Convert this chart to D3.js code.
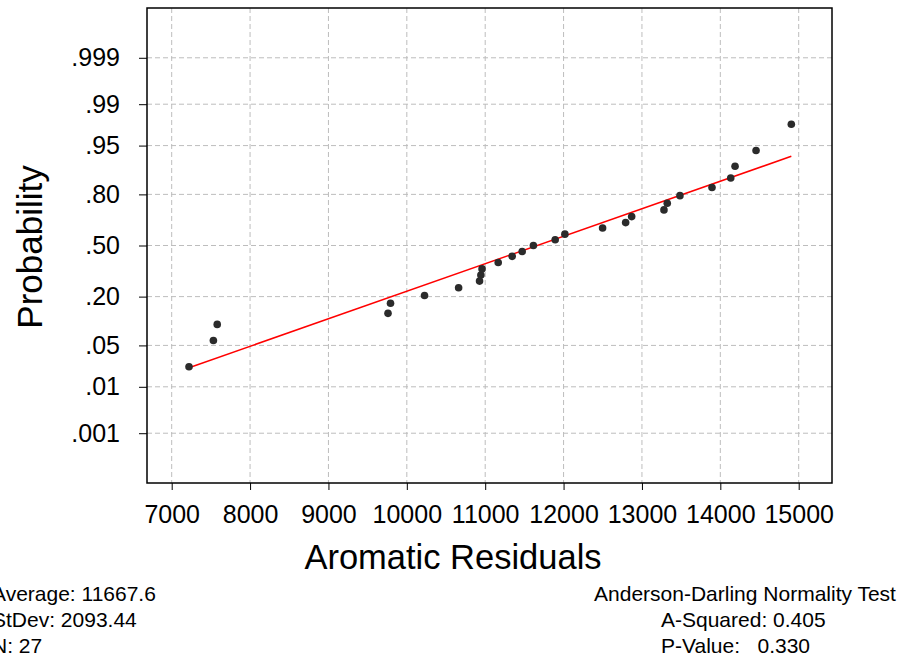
<!DOCTYPE html>
<html>
<head>
<meta charset="utf-8">
<script src="https://cdn.jsdelivr.net/npm/d3@7"></script>
<style>
  body { margin: 0; background: #fff; }
  svg { font-family: "Liberation Sans", Arial, sans-serif; }
</style>
</head>
<body>
<div id="chart"></div>
<script>
// residual values and their plotted probabilities
var residuals = [7221, 7532, 7581, 9760, 9792, 10226, 10661, 10928, 10945, 10960,
                 11166, 11344, 11472, 11615, 11893, 12017, 12498, 12792, 12869, 13281,
                 13323, 13485, 13894, 14133, 14188, 14456, 14906]
var probs = [0.023, 0.059, 0.097, 0.132, 0.171, 0.205, 0.243, 0.279, 0.314, 0.350,
             0.390, 0.429, 0.461, 0.500, 0.538, 0.574, 0.613, 0.647, 0.683, 0.721,
             0.757, 0.794, 0.830, 0.867, 0.904, 0.941, 0.977]

// fitted line end points
var fitX = [7221, 14906]
var fitP = [0.0221, 0.929]

var xTicks = [7000, 8000, 9000, 10000, 11000, 12000, 13000, 14000, 15000]
var yTicks = [0.001, 0.01, 0.05, 0.20, 0.50, 0.80, 0.95, 0.99, 0.999]
var yTickLabels = [".001", ".01", ".05", ".20", ".50", ".80", ".95", ".99", ".999"]

var statsLeft = ["Average: 11667.6", "StDev: 2093.44", "N: 27"]
var statsRight = ["Anderson-Darling Normality Test", "A-Squared: 0.405", "P-Value:   0.330"]

// inverse normal cdf (Acklam) for the probability scale
function probit(p) {
    var a = [-39.69683028665376, 220.9460984245205, -275.9285104469687, 138.3577518672690, -30.66479806614716, 2.506628277459239]
    var b = [-54.47609879822406, 161.5858368580409, -155.6989798598866, 66.80131188771972, -13.28068155288572]
    var c = [-0.007784894002430293, -0.3223964580411365, -2.400758277161838, -2.549732539343734, 4.374664141464968, 2.938163982698783]
    var d = [0.007784695709041462, 0.3224671290700398, 2.445134137142996, 3.754408661907416]
    var q, r
    if (p < 0.02425) {
        q = Math.sqrt(-2 * Math.log(p))
        return (((((c[0]*q+c[1])*q+c[2])*q+c[3])*q+c[4])*q+c[5]) / ((((d[0]*q+d[1])*q+d[2])*q+d[3])*q+1)
    } else if (p <= 1 - 0.02425) {
        q = p - 0.5; r = q * q
        return (((((a[0]*r+a[1])*r+a[2])*r+a[3])*r+a[4])*r+a[5])*q / (((((b[0]*r+b[1])*r+b[2])*r+b[3])*r+b[4])*r+1)
    } else {
        q = Math.sqrt(-2 * Math.log(1 - p))
        return -(((((c[0]*q+c[1])*q+c[2])*q+c[3])*q+c[4])*q+c[5]) / ((((d[0]*q+d[1])*q+d[2])*q+d[3])*q+1)
    }
}

var W = 906, H = 658
var margin = { top: 8, right: 74, bottom: 175, left: 147 }
var width = W - margin.left - margin.right
var height = H - margin.top - margin.bottom

var x = d3.scaleLinear().domain([6685, 15425]).range([0, width])
var yz = d3.scaleLinear().domain([-3.91, 3.91]).range([height, 0])
var y = function(p) { return yz(probit(p)) }

var svg = d3.select("#chart").append("svg")
    .attr("width", W)
    .attr("height", H)

var g = svg.append("g")
    .attr("transform", "translate(" + margin.left + "," + margin.top + ")")

// grid
g.selectAll(".vgrid")
    .data(xTicks)
    .enter().append("line")
    .attr("x1", function(d) { return x(d) })
    .attr("x2", function(d) { return x(d) })
    .attr("y1", 0)
    .attr("y2", height)
    .attr("stroke", "#bdbdbd")
    .attr("stroke-dasharray", "5,3")

g.selectAll(".hgrid")
    .data(yTicks)
    .enter().append("line")
    .attr("x1", 0)
    .attr("x2", width)
    .attr("y1", function(d) { return y(d) })
    .attr("y2", function(d) { return y(d) })
    .attr("stroke", "#bdbdbd")
    .attr("stroke-dasharray", "5,3")

// axes
var xAxis = g.append("g")
    .attr("transform", "translate(0," + height + ")")
    .call(d3.axisBottom(x).tickValues(xTicks).tickFormat(d3.format("d")).tickSize(7).tickPadding(15))
xAxis.select(".domain").remove()
xAxis.selectAll("text").attr("font-size", 25).attr("fill", "#000").attr("font-family", "Liberation Sans, Arial, sans-serif")

var yAxis = g.append("g")
    .call(d3.axisLeft(yz).tickValues(yTicks.map(probit))
        .tickFormat(function(d, i) { return yTickLabels[i] }).tickSize(8).tickPadding(19))
yAxis.select(".domain").remove()
yAxis.selectAll("text").attr("font-size", 25).attr("fill", "#000").attr("font-family", "Liberation Sans, Arial, sans-serif")

// frame
g.append("rect")
    .attr("width", width)
    .attr("height", height)
    .attr("fill", "none")
    .attr("stroke", "#000")
    .attr("stroke-width", 1.5)

// fitted line
g.append("line")
    .attr("x1", x(fitX[0]))
    .attr("y1", y(fitP[0]))
    .attr("x2", x(fitX[1]))
    .attr("y2", y(fitP[1]))
    .attr("stroke", "#ff0000")
    .attr("stroke-width", 1.5)

// points
g.selectAll(".dot")
    .data(residuals)
    .enter().append("circle")
    .attr("cx", function(d) { return x(d) })
    .attr("cy", function(d, i) { return y(probs[i]) })
    .attr("r", 3.8)
    .attr("fill", "#2b2b2b")

// titles
svg.append("text")
    .attr("x", 453)
    .attr("y", 569)
    .attr("text-anchor", "middle")
    .attr("font-size", 34.5)
    .text("Aromatic Residuals")

svg.append("text")
    .attr("transform", "translate(42,247) rotate(-90)")
    .attr("text-anchor", "middle")
    .attr("font-size", 35)
    .text("Probability")

// statistics
svg.selectAll(".statl")
    .data(statsLeft)
    .enter().append("text")
    .attr("x", -8)
    .attr("y", function(d, i) { return 601 + i * 26 })
    .attr("font-size", 21)
    .text(function(d) { return d })

svg.selectAll(".statr")
    .data(statsRight)
    .enter().append("text")
    .attr("x", function(d, i) { return i == 0 ? 745 : 661 })
    .attr("y", function(d, i) { return 601 + i * 26 })
    .attr("text-anchor", function(d, i) { return i == 0 ? "middle" : "start" })
    .attr("font-size", 21)
    .style("white-space", "pre")
    .text(function(d) { return d })
</script>
</body>
</html>
